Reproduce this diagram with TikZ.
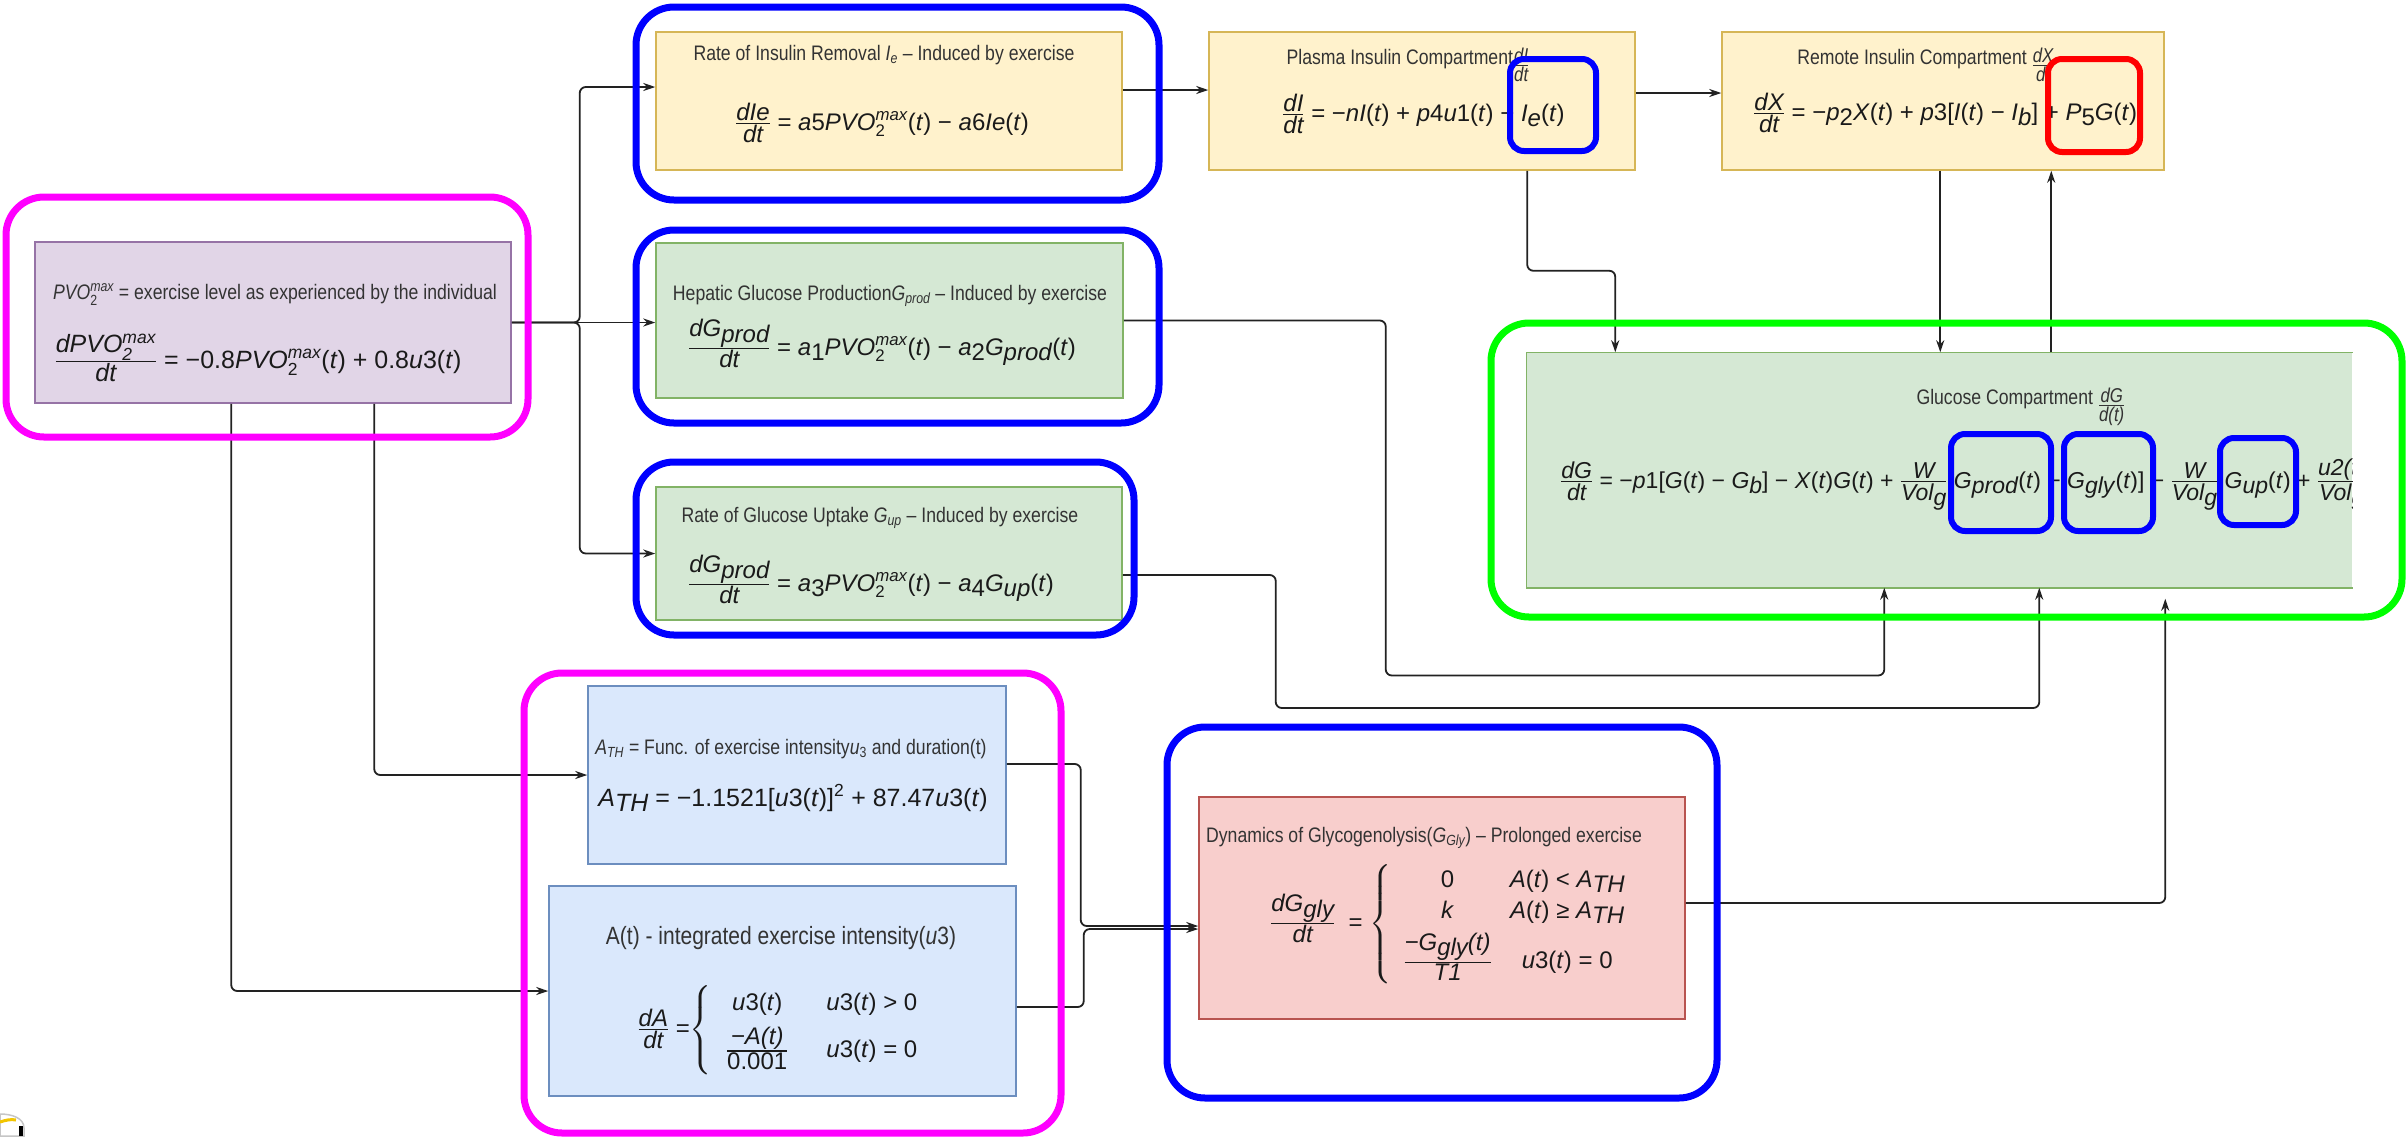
\documentclass[tikz,border=0pt]{standalone}
\usepackage{amsmath}
\usepackage{fontspec}
\setmainfont{Liberation Sans}
\newfontfamily\narrowfont{Liberation Sans}[FakeStretch=0.84]
\usetikzlibrary{arrows.meta}

\definecolor{yfill}{HTML}{FFF2CC}\definecolor{yline}{HTML}{D6B656}
\definecolor{gfill}{HTML}{D5E8D4}\definecolor{gline}{HTML}{82B366}
\definecolor{pfill}{HTML}{E1D5E7}\definecolor{pline}{HTML}{9673A6}
\definecolor{bfill}{HTML}{DAE8FC}\definecolor{bline}{HTML}{6C8EBF}
\definecolor{rfill}{HTML}{F8CECC}\definecolor{rline}{HTML}{B85450}
\definecolor{hlmag}{HTML}{FF00FF}\definecolor{hlblue}{HTML}{0000FF}
\definecolor{hlgreen}{HTML}{00FF00}\definecolor{hlred}{HTML}{FF0000}
\definecolor{linec}{HTML}{222222}\definecolor{txtc}{HTML}{333333}
\definecolor{eqc}{HTML}{1A1A1A}\definecolor{logoy}{HTML}{F2C500}

% variables, lowered indices, fractions and the PVO2max symbol
\newcommand{\vi}[1]{\textit{#1}}
\newcommand{\lo}[1]{\raisebox{-0.22em}{#1}}
\newcommand{\Fr}[2]{\ensuremath{\genfrac{}{}{1.1pt}{}{\hbox{\itshape #1}}{\hbox{\itshape #2}}}}
\newcommand{\smallfr}[2]{\raisebox{-7pt}{\fontsize{20}{20}\selectfont\Fr{#1}{#2}}}
\newcommand{\PVO}{\vi{PVO}\ensuremath{^{\text{\itshape max}}_{\text{2}}}}

\begin{document}
\begin{tikzpicture}[x=1pt,y=-1pt,
  conn/.style={draw=linec, line width=1.8pt, rounded corners=6pt, -{Stealth[length=12pt,width=8pt]}},
  bx/.style={rectangle, line width=1.5pt, inner sep=0pt},
  yel/.style={bx, fill=yfill, draw=yline},
  grn/.style={bx, fill=gfill, draw=gline},
  pur/.style={bx, fill=pfill, draw=pline},
  blu/.style={bx, fill=bfill, draw=bline},
  red/.style={bx, fill=rfill, draw=rline},
  ttl/.style={font=\narrowfont\fontsize{21}{25}\selectfont, text=txtc, inner sep=0pt, anchor=base},
  eqn/.style={font=\fontsize{24}{29}\selectfont, text=eqc, inner sep=0pt, anchor=base},
  hlbig/.style={line width=7pt, rounded corners=38pt},
  hlsmall/.style={line width=6pt, rounded corners=14pt},
]
\useasboundingbox (0,0) rectangle (2407,1136);
\fill[white] (0,0) rectangle (2407,1136);

% ---------- blocks ----------
\node[yel, minimum width=466pt, minimum height=138pt] (ir) at (889,101) {};
\node[yel, minimum width=426pt, minimum height=138pt] (pl) at (1422,101) {};
\node[yel, minimum width=442pt, minimum height=138pt] (rm) at (1943,101) {};
\node[pur, minimum width=476pt, minimum height=161pt] (pvo) at (273,322.5) {};
\node[grn, minimum width=467pt, minimum height=155pt] (hep) at (889.5,320.5) {};
\node[grn, minimum width=466pt, minimum height=133pt] (gup) at (889,553.5) {};
\node[bx, fill=gfill, minimum width=825pt, minimum height=234pt] (glu) at (1939.5,470) {};
\draw[gline, line width=1.5pt] (glu.north east) -- (glu.north west) -- (glu.south west) -- (glu.south east);
\node[blu, minimum width=418pt, minimum height=178pt] (ath) at (797,775) {};
\node[blu, minimum width=467pt, minimum height=210pt] (at) at (782.5,991) {};
\node[red, minimum width=486pt, minimum height=222pt] (gly) at (1442,908) {};

% ---------- texts ----------
\node[ttl] (irT) at (884,60) {Rate of Insulin Removal \vi{I}\textsubscript{\itshape e} – Induced by exercise};
\node[eqn] (irE) at (882,130) {\Fr{dIe}{dt} = \vi{a}5\PVO(\vi{t}) − \vi{a}6\vi{Ie}(\vi{t})};

\node[ttl] (plT) at (1408,64) {Plasma Insulin Compartment\smallfr{dI}{dt}};
\node[eqn, anchor=base west] (plE) at (1282,121) {\Fr{dI}{dt} = −\vi{nI}(\vi{t}) + \vi{p}4\vi{u}1(\vi{t}) − \vi{I}\lo{\vi{e}}(\vi{t})};

\node[ttl] (rmT) at (1926,64) {Remote Insulin Compartment \smallfr{dX}{dt}};
\node[eqn, anchor=base west] (rmE) at (1753,120) {\Fr{dX}{dt} = −\vi{p}\lo{2}\vi{X}(\vi{t}) + \vi{p}3[\vi{I}(\vi{t}) − \vi{I}\lo{\vi{b}}] + \vi{P}\lo{5}\vi{G}(\vi{t})};

\node[ttl] (pvoT) at (275,299) {\PVO{} = exercise level as experienced by the individual};
\node[eqn, font=\fontsize{25}{30}\selectfont] (pvoE) at (258,368) {\Fr{dPVO\ensuremath{^{\text{max}}_{\text{2}}}}{dt} = −0.8\PVO(\vi{t}) + 0.8\vi{u}3(\vi{t})};

\node[ttl] (hepT) at (890,300) {Hepatic Glucose Production\vi{G}\textsubscript{\itshape prod} – Induced by exercise};
\node[eqn] (hepE) at (882,355) {\Fr{dG\lo{prod}}{dt} = \vi{a}\lo{1}\PVO(\vi{t}) − \vi{a}\lo{2}\vi{G}\lo{\vi{prod}}(\vi{t})};

\node[ttl] (gupT) at (880,522) {Rate of Glucose Uptake \vi{G}\textsubscript{\itshape up} – Induced by exercise};
\node[eqn] (gupE) at (871,591) {\Fr{dG\lo{prod}}{dt} = \vi{a}\lo{3}\PVO(\vi{t}) − \vi{a}\lo{4}\vi{G}\lo{\vi{up}}(\vi{t})};

\node[ttl] (gluT) at (2021,404) {Glucose Compartment \smallfr{dG}{d(t)}};
\begin{scope}
  \clip (glu.north west) rectangle (glu.south east);
  \node[eqn, font=\fontsize{23}{28}\selectfont, anchor=base west] (gluE) at (1560,488)
    {\Fr{dG}{dt} = −\vi{p}1[\vi{G}(\vi{t}) − \vi{G}\lo{\vi{b}}] − \vi{X}(\vi{t})\vi{G}(\vi{t}) + \Fr{W}{Vol\lo{g}} \vi{G}\lo{\vi{prod}}(\vi{t}) − \vi{G}\lo{\vi{gly}}(\vi{t})] − \Fr{W}{Vol\lo{g}} \vi{G}\lo{\vi{up}}(\vi{t}) + \Fr{u2(t)}{Vol\lo{g}}};
\end{scope}

\node[ttl] (athT) at (791,754) {\vi{A}\textsubscript{\itshape TH} = Func. of exercise intensity\vi{u}\textsubscript{3} and duration(t)};
\node[eqn, font=\fontsize{25}{30}\selectfont] (athE) at (793,806) {\vi{A}\lo{\vi{TH}} = −1.1521[\vi{u}3(\vi{t})]\ensuremath{^{\text{2}}} + 87.47\vi{u}3(\vi{t})};

\node[ttl, font=\narrowfont\fontsize{25}{30}\selectfont] (atT) at (781,944) {A(t) - integrated exercise intensity(\vi{u}3)};
\node[eqn] (atE) at (778,1036) {\Fr{dA}{dt} =$\left\{\begin{array}{@{\hspace{14pt}}c@{\hspace{38pt}}c@{}}
   \hbox{\vi{u}3(\vi{t})} & \hbox{\vi{u}3(\vi{t}) > 0}\\[8pt]
   \hbox{\Fr{−A(t)}{\upshape 0.001}} & \hbox{\vi{u}3(\vi{t}) = 0}
   \end{array}\right.$};

\node[ttl] (glyT) at (1424,842) {Dynamics of Glycogenolysis(\vi{G}\textsubscript{\itshape Gly}) – Prolonged exercise};
\node[eqn] (glyE) at (1448,930) {\Fr{dG\lo{gly}}{dt} \ = $\left\{\begin{array}{@{\hspace{12pt}}c@{\hspace{18pt}}c@{}}
   \hbox{0} & \hbox{\vi{A}(\vi{t}) < \vi{A}\lo{\vi{TH}}}\\[2pt]
   \hbox{\vi{k}} & \hbox{\vi{A}(\vi{t}) ≥ \vi{A}\lo{\vi{TH}}}\\[6pt]
   \hbox{\Fr{−G\lo{gly}(t)}{T1}} & \hbox{\vi{u}3(\vi{t}) = 0}
   \end{array}\right.$};

% ---------- connectors ----------
\draw[conn] (pvo.east) -- ++(68,0) |- ([yshift=14pt]ir.west);
\draw[conn] (pvo.east) -- (pvo.east -| hep.west);
\draw[conn] (pvo.east) -- ++(68,0) |- (gup.west);
\draw[conn] ([xshift=197pt]pvo.south west) |- (at.west);
\draw[conn] ([xshift=340pt]pvo.south west) |- (ath.west);

\draw[conn] ([yshift=11pt]ir.east) -- ([yshift=11pt]pl.west);
\draw[conn] ([yshift=8pt]pl.east) -- ([yshift=8pt]rm.west);

\coordinate (p1) at ([xshift=319pt]pl.south west);
\coordinate (g0) at ([xshift=89pt]glu.north west);
\draw[conn] (p1) -- ++(0,100) -| (g0);
\coordinate (r1) at ([xshift=219pt]rm.south west);
\draw[conn] (r1) -- (r1 |- glu.north);
\coordinate (g1) at ([xshift=525pt]glu.north west);
\draw[conn] (g1) -- (g1 |- rm.south);

\coordinate (h1) at ([xshift=358pt]glu.south west);
\draw[conn] (hep.east) -- ++(262,0) -- ++(0,355) -| (h1);
\coordinate (u1) at ([xshift=513pt]glu.south west);
\draw[conn] ([yshift=-21.5pt]gup.east) -- ++(153,0) -- ++(0,133) -| (u1);

\draw[conn] ([yshift=11pt]ath.east) -- ++(74,0) |- ([yshift=-18pt]gly.west);
\draw[conn] ([yshift=-16pt]at.east) -- ++(67,0) |- ([yshift=-21pt]gly.west);

\coordinate (y1) at ([xshift=639pt,yshift=-11pt]glu.south west);
\draw[conn] ([yshift=5pt]gly.east) -| (y1);

% ---------- highlight frames ----------
\draw[hlbig, draw=hlmag] (6,197) rectangle (528,437);
\draw[hlbig, draw=hlblue] (636,7) rectangle (1159,200);
\draw[hlbig, draw=hlblue] (636,230) rectangle (1159,423);
\draw[hlbig, draw=hlblue] (636,462) rectangle (1134,635);
\draw[hlbig, draw=hlgreen] (1491,323) rectangle (2402,617);
\draw[hlbig, draw=hlmag] (524,673) rectangle (1061,1133);
\draw[hlbig, draw=hlblue] (1167,727) rectangle (1717,1098);
\draw[hlsmall, draw=hlblue] (1510,59) rectangle (1596,151);
\draw[hlsmall, draw=hlred] (2048,59) rectangle (2140,152);
\draw[hlsmall, draw=hlblue] (1951,434) rectangle (2051,531);
\draw[hlsmall, draw=hlblue] (2064,434) rectangle (2153,531);
\draw[hlsmall, draw=hlblue] (2220,438) rectangle (2296,525);

% ---------- corner emblem ----------
\draw[gray!45, line width=1.5pt, fill=white] (0,1114) .. controls (12,1114) and (24,1118) .. (24,1128) -- (24,1136) -- (0,1136) -- cycle;
\draw[logoy, line width=3pt] (0,1122) .. controls (6,1120) and (11,1119) .. (16,1120);
\fill[black] (19,1126) rectangle (23,1136);
\end{tikzpicture}
\end{document}
